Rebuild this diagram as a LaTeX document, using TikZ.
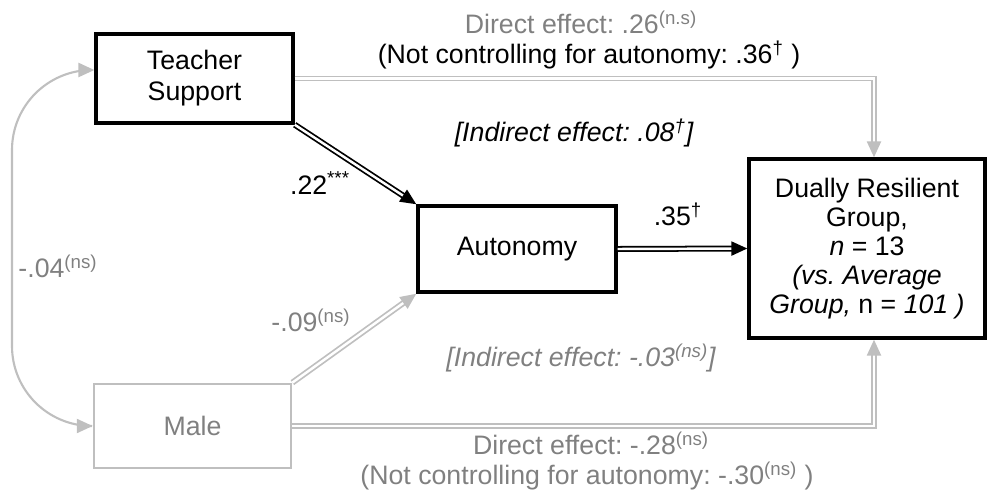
\documentclass[tikz,border=0pt]{standalone}
\usepackage{fontspec}
\setmainfont{Liberation Sans}
\usetikzlibrary{arrows.meta}
\definecolor{lgray}{HTML}{BFBFBF}
\definecolor{tgray}{HTML}{808080}
\frenchspacing
\begin{document}
\begin{tikzpicture}[x=0.02cm,y=0.02cm,>={Triangle[length=9pt,width=8pt]},
  font=\fontsize{15.2}{16.6}\selectfont,
  box/.style={draw,line width=2pt,minimum width=3.94cm,align=center,inner sep=0pt},
  dpath/.style={double,double distance=1.4pt,line width=1pt}]
\useasboundingbox (0,0) rectangle (987,497);
\node[box,minimum height=1.78cm] (tsup) at (194.5,418.5) {Teacher\\[1pt]Support};
\node[box,minimum height=1.72cm,minimum width=3.96cm] (auto) at (517,248) {Autonomy};
\node[box,minimum height=3.58cm,minimum width=4.72cm] (dual) at (867,248.5)
  {Dually Resilient\\Group,\\\textit{n} = 13\\\textit{(vs. Average}\\\textit{Group,} n = \textit{101 )}};
\node[box,draw=lgray,line width=1.6pt,text=tgray,minimum height=1.68cm] (male) at (192.5,71) {Male};
\draw[dpath,->] (tsup.south east)--(auto.north west);
\draw[dpath,->] (auto.east)--(dual.west);
\draw[dpath,lgray,->] (male.north east)--(auto.south west);
\draw[dpath,lgray,->] (tsup.east)-|([xshift=0.14cm]dual.north);
\draw[dpath,lgray,->] (male.east)-|([xshift=0.14cm]dual.south);
\draw[lgray,line width=1.2pt,<->,rounded corners=1.6cm] ([yshift=0.17cm]tsup.west)-|(12,250)|-(male.west);
\node[tgray] (dlab1) at (581,475) {Direct effect: .26\textsuperscript{(n.s)}};
\node (nclab1) at (589,442) {(Not controlling for autonomy: .36\textsuperscript{\textdagger}~)};
\node (ind1) at (574,364) {\itshape [Indirect effect: .08\textsuperscript{\textdagger}]};
\node (p22) at (320,314) {.22\textsuperscript{***}};
\node (p35) at (678,283) {.35\textsuperscript{\textdagger}};
\node[tgray] (p04) at (58,231) {-.04\textsuperscript{(ns)}};
\node[tgray] (p09) at (311,177) {-.09\textsuperscript{(ns)}};
\node[tgray] (ind2) at (581,139) {\itshape [Indirect effect: -.03\textsuperscript{(ns)}]};
\node[tgray] (dlab2) at (591,54) {Direct effect: -.28\textsuperscript{(ns)}};
\node[tgray] (nclab2) at (587,21) {(Not controlling for autonomy: -.30\textsuperscript{(ns)}~)};
\end{tikzpicture}
\end{document}
